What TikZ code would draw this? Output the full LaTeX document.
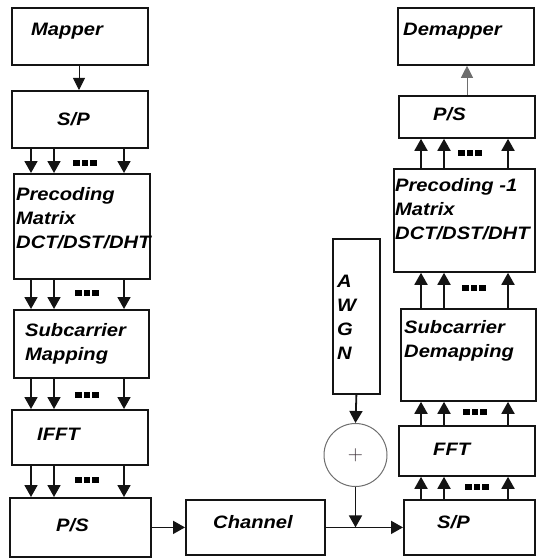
\documentclass[tikz,border=0pt]{standalone}
\usepackage{fontspec}
\newfontfamily\blockfont{Liberation Sans}[FakeStretch=1.12]
\usetikzlibrary{arrows.meta}

\newcommand{\sqdots}{\rule{6.5pt}{5.5pt}\hspace{2pt}\rule{6.5pt}{5.5pt}\hspace{2pt}\rule{6.5pt}{5.5pt}}

\tikzset{
    block/.style={draw=borderColour, line width=1.8pt, inner sep=0pt, anchor=north west},
    lbl/.style={inner sep=0pt, anchor=north west, align=left,
        font=\blockfont\bfseries\itshape\fontsize{18}{24}\selectfont},
    arr/.style={line width=1.8pt, draw=borderColour,
        -{Triangle[length=12pt,width=13pt]}},
    thinarr/.style={line width=0.9pt, draw=lineGrey,
        -{Triangle[length=12pt,width=12pt]}},
    dotsnode/.style={inner sep=0pt}
}

\begin{document}
\begin{tikzpicture}[x=1pt, y=-1pt]
    \definecolor{borderColour}{HTML}{141414}
    \definecolor{lineGrey}{HTML}{6E6E6E}
    \definecolor{plusColour}{HTML}{3A2E36}

    \useasboundingbox (0,0) rectangle (536,559);

    % Transmitter blocks
    \node[block, minimum width=136pt, minimum height=57pt] (mapper) at (11,7) {};
    \node[block, minimum width=136pt, minimum height=57pt] (spA) at (11,90) {};
    \node[block, minimum width=136pt, minimum height=105pt] (precA) at (13,173) {};
    \node[block, minimum width=135pt, minimum height=68pt] (subA) at (13,309) {};
    \node[block, minimum width=136pt, minimum height=55pt] (ifft) at (11,409) {};
    \node[block, minimum width=141pt, minimum height=59pt] (psA) at (9,497) {};

    % Channel and noise
    \node[block, minimum width=139pt, minimum height=55pt] (channel) at (185,499) {};
    \node[block, minimum width=47pt, minimum height=155pt] (awgn) at (332,238) {};
    \node[circle, draw=lineGrey, line width=1pt, minimum size=63pt, inner sep=0pt,
        text=plusColour, font=\fontsize{21}{21}\selectfont] (sum) at (355.5,455) {+};

    % Receiver blocks
    \node[block, minimum width=131pt, minimum height=55pt] (spB) at (403,499) {};
    \node[block, minimum width=136pt, minimum height=50pt] (fft) at (398,425) {};
    \node[block, minimum width=135pt, minimum height=92pt] (subB) at (400,308) {};
    \node[block, minimum width=141pt, minimum height=103pt] (precB) at (393,168) {};
    \node[block, minimum width=136pt, minimum height=42pt] (psB) at (398,95) {};
    \node[block, minimum width=136pt, minimum height=57pt] (demapper) at (397,7) {};

    % Labels
    \node[lbl] (mapperText) at (31,23) {Mapper};
    \node[lbl] (spAText) at (57,112) {S/P};
    \node[lbl] (precAText) at (16,187) {Precoding\\Matrix\\DCT/DST/DHT};
    \node[lbl] (subAText) at (25,323) {Subcarrier\\Mapping};
    \node[lbl] (ifftText) at (37,428) {IFFT};
    \node[lbl] (psAText) at (56,518) {P/S};
    \node[lbl] (channelText) at (213,515) {Channel};
    \node[lbl] (awgnText) at (337,275) {A\\W\\G\\N};
    \node[lbl] (spBText) at (437,515) {S/P};
    \node[lbl] (fftText) at (433,443) {FFT};
    \node[lbl] (subBText) at (404,320) {Subcarrier\\Demapping};
    \node[lbl] (precBText) at (395,178) {Precoding -1\\Matrix\\DCT/DST/DHT};
    \node[lbl] (psBText) at (433,107) {P/S};
    \node[lbl] (demapperText) at (403,23) {Demapper};

    % Parallel arrows, transmitter side
    \draw[thinarr, draw=borderColour] (mapper.south -| 79,0) -- (spA.north -| 79,0);
    \foreach \x in {31,54,124} {
        \draw[arr] (spA.south -| \x,0) -- (precA.north -| \x,0);
        \draw[arr] (precA.south -| \x,0) -- (subA.north -| \x,0);
        \draw[arr] (subA.south -| \x,0) -- (ifft.north -| \x,0);
        \draw[arr] (ifft.south -| \x,0) -- (psA.north -| \x,0);
    }
    \node[dotsnode] (dotsA) at (85,163) {\sqdots};
    \node[dotsnode] (dotsB) at (87,293) {\sqdots};
    \node[dotsnode] (dotsC) at (87,395) {\sqdots};
    \node[dotsnode] (dotsD) at (87,480) {\sqdots};

    % Through the channel
    \coordinate (join) at (sum.south |- channel.east);
    \draw[arr] (psA.east) -- (channel.west);
    \draw[arr] (channel.east) -- (spB.west);
    \draw[arr] (awgn.south) -- (sum.north);
    \draw[arr] (sum.south) -- (join);

    % Parallel arrows, receiver side
    \foreach \x in {421,444,508} {
        \draw[arr] (spB.north -| \x,0) -- (fft.south -| \x,0);
        \draw[arr] (fft.north -| \x,0) -- (subB.south -| \x,0);
        \draw[arr] (subB.north -| \x,0) -- (precB.south -| \x,0);
        \draw[arr] (precB.north -| \x,0) -- (psB.south -| \x,0);
    }
    \draw[thinarr] (psB.north -| 467,0) -- (demapper.south -| 467,0);
    \node[dotsnode] (dotsE) at (477,487) {\sqdots};
    \node[dotsnode] (dotsF) at (475,412) {\sqdots};
    \node[dotsnode] (dotsG) at (474,288) {\sqdots};
    \node[dotsnode] (dotsH) at (470,153) {\sqdots};

\end{tikzpicture}
\end{document}
